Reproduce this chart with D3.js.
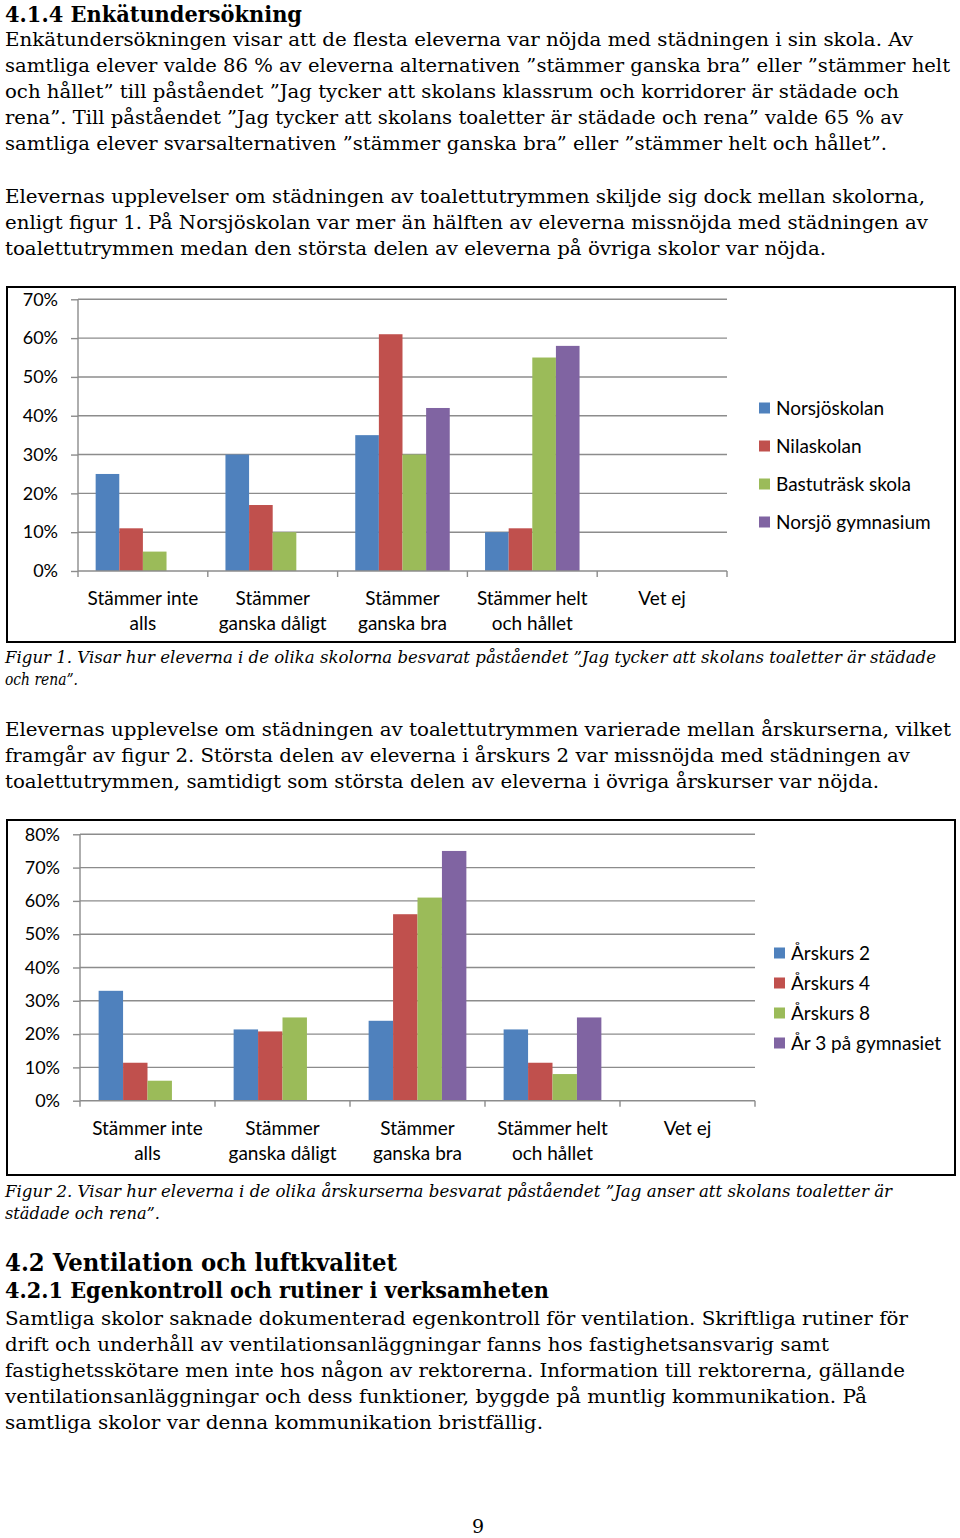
<!DOCTYPE html>
<html><head><meta charset="utf-8">
<script src="https://cdn.jsdelivr.net/npm/d3@7"></script>
<style>body{margin:0;background:#fff}svg{display:block}</style>
</head><body>
<script>
// ---------- DATA ----------
const categories = [["Stämmer inte","alls"],["Stämmer","ganska dåligt"],["Stämmer","ganska bra"],["Stämmer helt","och hållet"],["Vet ej"]];
const schools = ["Norsjöskolan","Nilaskolan","Bastuträsk skola","Norsjö gymnasium"];
const norsjoskolan   = [0.25,0.30,0.35,0.10,0];
const nilaskolan     = [0.11,0.17,0.61,0.11,0];
const bastutrask     = [0.05,0.10,0.30,0.55,0];
const norsjoGymnasium= [0.00,0.00,0.42,0.58,0];
const ticks1 = [0,0.1,0.2,0.3,0.4,0.5,0.6,0.7];

const grades = ["Årskurs 2","Årskurs 4","Årskurs 8","År 3 på gymnasiet"];
const ak2 = [0.33,0.214,0.24,0.214,0];
const ak4 = [0.114,0.208,0.56,0.114,0];
const ak8 = [0.06,0.25,0.61,0.08,0];
const gy3 = [0.00,0.00,0.75,0.25,0];
const ticks2 = [0,0.1,0.2,0.3,0.4,0.5,0.6,0.7,0.8];

const colors = ["#4F81BD","#C0504D","#9BBB59","#8064A2"];

// ---------- TEXT ----------
const serif = "'DejaVu Serif', 'Liberation Serif', serif";
const sans = "Lato, 'Open Sans', sans-serif";
const texts = [
 {t:"4.1.4 Enkätundersökning", y:22, w:297, s:22, b:true},
 {t:"Enkätundersökningen visar att de flesta eleverna var nöjda med städningen i sin skola. Av", y:46, w:908},
 {t:"samtliga elever valde 86 % av eleverna alternativen ”stämmer ganska bra” eller ”stämmer helt", y:72, w:945},
 {t:"och hållet” till påståendet ”Jag tycker att skolans klassrum och korridorer är städade och", y:98, w:894},
 {t:"rena”. Till påståendet ”Jag tycker att skolans toaletter är städade och rena” valde 65 % av", y:124, w:898},
 {t:"samtliga elever svarsalternativen ”stämmer ganska bra” eller ”stämmer helt och hållet”.", y:150, w:882},
 {t:"Elevernas upplevelser om städningen av toalettutrymmen skiljde sig dock mellan skolorna,", y:203, w:920},
 {t:"enligt figur 1. På Norsjöskolan var mer än hälften av eleverna missnöjda med städningen av", y:229, w:923},
 {t:"toalettutrymmen medan den största delen av eleverna på övriga skolor var nöjda.", y:255, w:821},
 {t:"Figur 1. Visar hur eleverna i de olika skolorna besvarat påståendet ”Jag tycker att skolans toaletter är städade", y:663, w:931, s:16, i:true},
 {t:"och rena”.", y:685, w:73, s:16, i:true},
 {t:"Elevernas upplevelse om städningen av toalettutrymmen varierade mellan årskurserna, vilket", y:736, w:946},
 {t:"framgår av figur 2. Största delen av eleverna i årskurs 2 var missnöjda med städningen av", y:762, w:905},
 {t:"toalettutrymmen, samtidigt som största delen av eleverna i övriga årskurser var nöjda.", y:788, w:874},
 {t:"Figur 2. Visar hur eleverna i de olika årskurserna besvarat påståendet ”Jag anser att skolans toaletter är", y:1197, w:887, s:16, i:true},
 {t:"städade och rena”.", y:1219, w:155, s:16, i:true},
 {t:"4.2 Ventilation och luftkvalitet", y:1271, w:392, s:24, b:true},
 {t:"4.2.1 Egenkontroll och rutiner i verksamheten", y:1298, w:544, s:22, b:true},
 {t:"Samtliga skolor saknade dokumenterad egenkontroll för ventilation. Skriftliga rutiner för", y:1325, w:903},
 {t:"drift och underhåll av ventilationsanläggningar fanns hos fastighetsansvarig samt", y:1351, w:824},
 {t:"fastighetsskötare men inte hos någon av rektorerna. Information till rektorerna, gällande", y:1377, w:900},
 {t:"ventilationsanläggningar och dess funktioner, byggde på muntlig kommunikation. På", y:1403, w:862},
 {t:"samtliga skolor var denna kommunikation bristfällig.", y:1429, w:538}
];

const svg = d3.select("body").append("svg").attr("width",960).attr("height",1538);
svg.append("rect").attr("width",960).attr("height",1538).attr("fill","#fff");

texts.forEach(d=>{
  svg.append("text").attr("x",5).attr("y",d.y)
    .attr("font-family",serif).attr("font-size",d.s||19)
    .attr("font-weight",d.b?"bold":"normal").attr("font-style",d.i?"italic":"normal")
    .attr("textLength",d.w).attr("lengthAdjust","spacingAndGlyphs")
    .attr("fill","#000").text(d.t);
});
svg.append("text").attr("x",478).attr("y",1533).attr("text-anchor","middle")
  .attr("font-family",serif).attr("font-size",19).text("9");

function chart(cfg){
  const g = svg.append("g");
  g.append("rect").attr("x",cfg.box[0]).attr("y",cfg.box[1]).attr("width",cfg.box[2]).attr("height",cfg.box[3])
   .attr("fill","#fff").attr("stroke","#000").attr("stroke-width",2);
  const x = d3.scaleBand().domain(d3.range(categories.length)).range([cfg.x0,cfg.x1]);
  const y = d3.scaleLinear().domain([0,cfg.max]).range([cfg.y0,cfg.yTop]);
  const off = x.bandwidth()*cfg.padFrac;
  const xs = d3.scaleBand().domain(d3.range(cfg.series.length)).range([off,x.bandwidth()-off]);
  // gridlines
  g.selectAll(".grid").data(cfg.ticks.slice(1)).join("line")
   .attr("x1",cfg.x0).attr("x2",cfg.x1).attr("y1",d=>y(d)).attr("y2",d=>y(d))
   .attr("stroke","#8c8c8c").attr("stroke-width",1.4);
  // y-axis
  const yAxis = d3.axisLeft(y).tickValues(cfg.ticks).tickSize(7).tickFormat(d3.format(".0%"));
  const ya = g.append("g").attr("transform",`translate(${cfg.x0},0)`).call(yAxis);
  ya.select(".domain").attr("stroke","#8c8c8c").attr("stroke-width",1.4).attr("d",`M0,${cfg.y0}V${cfg.yTop}`);
  ya.selectAll(".tick line").attr("stroke","#8c8c8c").attr("stroke-width",1.4);
  ya.selectAll(".tick text").attr("x",cfg.labX).attr("font-family",sans).attr("font-size",18).attr("fill","#000");
  ya.attr("font-family",null);
  // bars
  cfg.series.forEach((vals,si)=>{
    g.selectAll(".b"+si).data(vals).join("rect")
     .attr("x",(d,i)=>x(i)+xs(si)).attr("width",xs.bandwidth())
     .attr("y",d=>y(d)).attr("height",d=>cfg.y0-y(d)).attr("fill",colors[si]);
  });
  // x-axis
  g.append("line").attr("x1",cfg.x0).attr("x2",cfg.x1).attr("y1",cfg.y0).attr("y2",cfg.y0)
   .attr("stroke","#8c8c8c").attr("stroke-width",1.6);
  const bounds = d3.range(categories.length+1).map(i=>i<categories.length?x(i):cfg.x1);
  g.selectAll(".xt").data(bounds).join("line")
   .attr("x1",d=>d).attr("x2",d=>d).attr("y1",cfg.y0).attr("y2",cfg.y0+6)
   .attr("stroke","#8c8c8c").attr("stroke-width",1.4);
  categories.forEach((lines,i)=>{
    const t = g.append("text").attr("font-family",sans).attr("font-size",19).attr("text-anchor","middle").attr("fill","#000");
    lines.forEach((ln,k)=>t.append("tspan").attr("x",x(i)+x.bandwidth()/2).attr("y",cfg.catY+k*25).text(ln));
  });
  // legend
  cfg.names.forEach((n,i)=>{
    const cy = cfg.legY + i*cfg.legStep;
    g.append("rect").attr("x",cfg.legX).attr("y",cy-5.5).attr("width",11).attr("height",11).attr("fill",colors[i]);
    g.append("text").attr("x",cfg.legX+17).attr("y",cy+6.5).attr("font-family",sans).attr("font-size",19).attr("fill","#000").text(n);
  });
}

chart({box:[7,287,948,355], x0:78, x1:727, y0:571, yTop:299.3, max:0.7, ticks:ticks1,
  series:[norsjoskolan,nilaskolan,bastutrask,norsjoGymnasium], padFrac:0.136, labX:-20,
  catY:605, names:schools, legX:759, legY:408, legStep:38});

chart({box:[7,820,948,355], x0:80, x1:755, y0:1100.7, yTop:834.3, max:0.8, ticks:ticks2,
  series:[ak2,ak4,ak8,gy3], padFrac:0.138, labX:-20,
  catY:1135, names:grades, legX:774, legY:953, legStep:30});
</script>
</body></html>
